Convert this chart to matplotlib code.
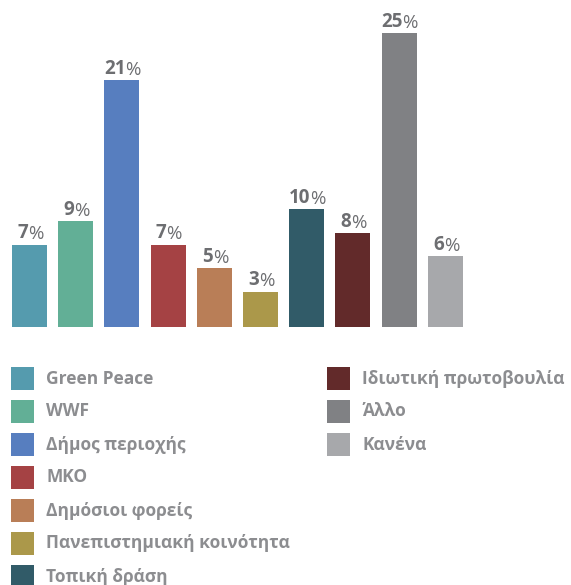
import matplotlib
matplotlib.use("Agg")
import matplotlib.pyplot as plt
from matplotlib.patches import Rectangle

plt.rcParams['font.family'] = ['Open Sans', 'DejaVu Sans']

# Données
categories = ["Green Peace", "WWF", "Δήμος περιοχής", "ΜΚΟ", "Δημόσιοι φορείς",
              "Πανεπιστημιακή κοινότητα", "Τοπική δράση", "Ιδιωτική πρωτοβουλία",
              "Άλλο", "Κανένα"]
valeurs = [7, 9, 21, 7, 5, 3, 10, 8, 25, 6]
couleurs = ["#559bae", "#62af96", "#577ebf", "#a54244", "#b97e57",
            "#ab984a", "#315b68", "#622a2a", "#808184", "#a7a8ab"]

W, H = 571, 585
fig = plt.figure(figsize=(W / 100, H / 100), dpi=100)

# axes : baseline at y=327 px, top of figure = 327/11.76
base_px = 327
ax = fig.add_axes([0, (H - base_px) / H, 1, base_px / H])
pas = 46.2
x0 = 29.5
ax.set_xlim(-x0 / pas, (W - x0) / pas)
ax.set_ylim(0, base_px / 11.76)
ax.axis('off')

xs = list(range(len(valeurs)))
ax.bar(xs, valeurs, width=35 / pas, color=couleurs)

label_col = "#6d6e71"
for x, v in zip(xs, valeurs):
    n = len(str(v))
    dx = (n * 10 - 13) / 2 * 0.72  # px -> pt
    ax.annotate(str(v), (x, v), xytext=(dx, 1), textcoords='offset points',
                ha='right', va='bottom', fontsize=13.5, fontweight='bold', color=label_col)
    ax.annotate("%", (x, v), xytext=(dx, 1), textcoords='offset points',
                ha='left', va='bottom', fontsize=13.5, color=label_col)

# Légende manuelle (7 + 3)
leg_col = "#8c8d90"
for i, (cat, col) in enumerate(zip(categories, couleurs)):
    if i < 7:
        lx, row = 11, i
    else:
        lx, row = 327, i - 7
    cy = 378.5 + 33 * row
    fig.add_artist(Rectangle((lx / W, (H - cy - 11.5) / H), 23 / W, 23 / H,
                             transform=fig.transFigure, color=col, lw=0))
    fig.text((lx + 35) / W, (H - cy) / H, cat, ha='left', va='center',
             fontsize=12.5, fontweight='bold', color=leg_col)

fig.savefig("out.png", dpi=100)
